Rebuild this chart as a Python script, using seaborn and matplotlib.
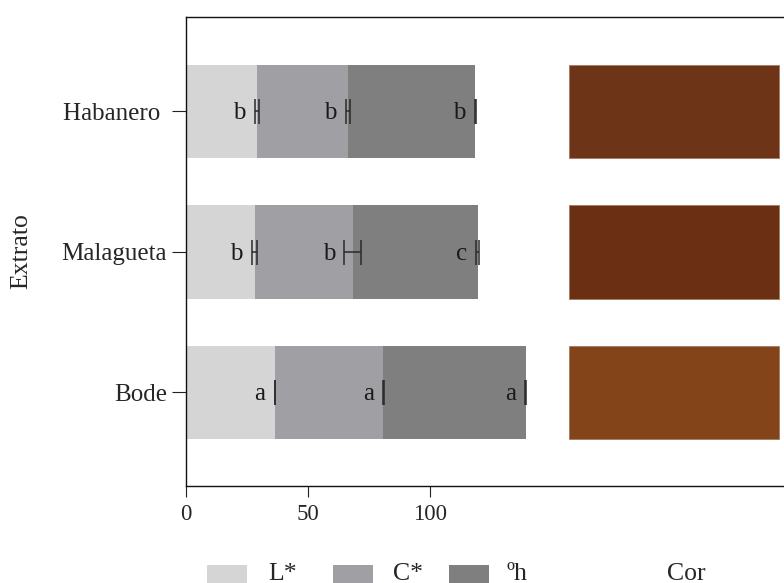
import numpy as np
import pandas as pd
import matplotlib
matplotlib.use("Agg")
import matplotlib.pyplot as plt
import matplotlib.patches as mpatches
import seaborn as sns

# ---- data ----
extratos = ["Habanero ", "Malagueta", "Bode"]
L_vals = [29.2, 28.3, 36.6]
C_vals = [37.4, 40.2, 44.3]
h_vals = [51.9, 51.1, 58.4]
L_err = [0.9, 1.1, 0.2]
C_err = [0.9, 3.5, 0.2]
h_err = [0.2, 0.5, 0.2]
L_let = ["b", "b", "a"]
C_let = ["b", "b", "a"]
h_let = ["b", "c", "a"]
cor_colors = ["#6e3418", "#6b2f13", "#824418"]
series_names = ["L*", "C*", "\u00bah"]
x_ticks = [0, 50, 100]

# ---- style ----
sns.set_style("ticks")
plt.rcParams["font.family"] = ["Liberation Serif", "DejaVu Serif"]
col_L, col_C, col_h = "#d5d5d5", "#a0a0a4", "#7f7f7f"
series_colors = [col_L, col_C, col_h]
bar_w = 0.665
cor_left, cor_right = 157.1, 242.8
W, H = 784, 583

df = pd.DataFrame({"Extrato": extratos, "L": L_vals, "C": C_vals, "h": h_vals})
df["cumL"] = df["L"]
df["cumC"] = df["L"] + df["C"]
df["cumH"] = df["cumC"] + df["h"]

fig = plt.figure(figsize=(7.84, 5.83), dpi=100)
ax = fig.add_axes([185.6 / W, 1 - 485.5 / H, 598.4 / W, (485.5 - 17.3) / H])

for col, c in [("cumH", col_h), ("cumC", col_C), ("cumL", col_L)]:
    sns.barplot(data=df, x=col, y="Extrato", order=extratos, color=c,
                orient="h", width=bar_w, errorbar=None, ax=ax,
                saturation=1, edgecolor="none", linewidth=0)

pos = np.arange(len(extratos))
ax.barh(pos, cor_right - cor_left, left=cor_left, height=bar_w,
        color=cor_colors, edgecolor="#a47a62", linewidth=0.6)

for cum, err, lets in [(df["cumL"], L_err, L_let), (df["cumC"], C_err, C_let),
                       (df["cumH"], h_err, h_let)]:
    ax.errorbar(cum, pos, xerr=err, fmt="none", ecolor="#2a2a2a",
                elinewidth=1.1, capsize=9, capthick=1.1)
    for i in range(len(pos)):
        ax.annotate(lets[i], xy=(cum.iloc[i] - err[i], pos[i]),
                    xytext=(-6.5, -5.5), textcoords="offset points",
                    ha="right", va="baseline", fontsize=18, color="#1a1a1a")

ax.set_xlim(0, 245)
ax.set_ylim(2.663, -0.670)
ax.set_xticks(x_ticks)
ax.set_xticklabels([str(t) for t in x_ticks], fontsize=16.5)
ax.set_yticks(pos)
ax.set_yticklabels(extratos, fontsize=18)
ax.tick_params(axis="y", length=10, width=0.8, pad=3.5, color="#222222")
ax.tick_params(axis="x", length=7.7, width=0.8, pad=5.5, color="#222222")
ax.set_xlabel("")
ax.set_ylabel("Extrato", fontsize=18.5)
ax.yaxis.set_label_coords(-0.257, 0.5)
for s in ["left", "bottom", "top"]:
    ax.spines[s].set_linewidth(1.0)
    ax.spines[s].set_color("#111111")
ax.spines["right"].set_visible(False)

# legend (drawn manually to match the reference layout)
patch_x = [206.7, 332.7, 449.3]
text_x = [268.0, 393.0, 506.7]
for c, n, px, tx in zip(series_colors, series_names, patch_x, text_x):
    fig.add_artist(mpatches.Rectangle((px / W, 1 - 592 / H), 40 / W, 27 / H,
                                      transform=fig.transFigure, color=c,
                                      linewidth=0))
    fig.text(tx / W, 1 - 579.5 / H, n, ha="left", va="baseline", fontsize=18.5)
fig.text(686 / W, 1 - 579.5 / H, "Cor", ha="center", va="baseline", fontsize=18.5)

fig.savefig("out.png", dpi=100)
